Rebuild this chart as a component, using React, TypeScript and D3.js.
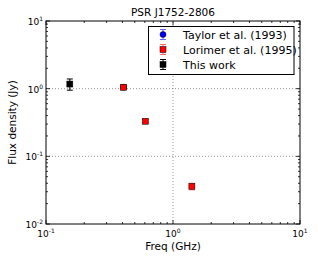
import React from 'react';
import * as d3 from 'd3';

// data
const taylorFreq = [0.408];
const taylorFlux = [1.05];
const taylorErr = [0.08];

const lorimerFreq = [0.408, 0.606, 1.408];
const lorimerFlux = [1.05, 0.33, 0.036];
const lorimerErr = [0.08, 0.02, 0.004];

const thisFreq = [0.154];
const thisFlux = [1.17];
const thisErr = [0.22];

const xTickExps = [-1, 0, 1];
const yTickExps = [-2, -1, 0, 1];

const legendLabels = ['Taylor et al. (1993)', 'Lorimer et al. (1995)', 'This work'];

const W = 318, H = 265;
const margin = { top: 21, right: 18, bottom: 41, left: 46 };
const font = 'DejaVu Sans, sans-serif';

function minorTicks(lo: number, hi: number) {
  const out: number[] = [];
  for (let e = lo; e < hi; e++) {
    for (let k = 2; k <= 9; k++) out.push(k * Math.pow(10, e));
  }
  return out;
}

export default function App() {
  const x = d3.scaleLog().domain([0.1, 10]).range([margin.left, W - margin.right]);
  const y = d3.scaleLog().domain([0.01, 10]).range([H - margin.bottom, margin.top]);
  const [x0, x1] = x.range();
  const [y0, y1] = y.range();

  const series = [
    { f: taylorFreq, s: taylorFlux, e: taylorErr, color: '#0000ff', shape: 'circle' },
    { f: lorimerFreq, s: lorimerFlux, e: lorimerErr, color: '#ff0000', shape: 'square' },
    { f: thisFreq, s: thisFlux, e: thisErr, color: '#000000', shape: 'square' },
  ];

  const marker = (cx: number, cy: number, color: string, shape: string, key: string) =>
    shape === 'circle'
      ? <circle key={key} cx={cx} cy={cy} r={3} fill={color} stroke="#000" strokeWidth={0.5} />
      : <rect key={key} x={cx - 3} y={cy - 3} width={6} height={6} fill={color} stroke="#000" strokeWidth={0.5} />;

  const errBar = (cx: number, top: number, bot: number, color: string, key: string) => (
    <g key={key} stroke={color} strokeWidth={1} opacity={color === '#000000' ? 1 : 0.6}>
      <line x1={cx} x2={cx} y1={top} y2={bot} />
      <line x1={cx - 3} x2={cx + 3} y1={top} y2={top} />
      <line x1={cx - 3} x2={cx + 3} y1={bot} y2={bot} />
    </g>
  );

  const xMinor = minorTicks(-1, 1);
  const yMinor = minorTicks(-2, 1);

  return (
    <svg width={W} height={H} style={{ position: 'absolute', left: 0, top: 0 }} fontFamily={font}>
      <rect width={W} height={H} fill="#fff" />

      {/* grid */}
      <g stroke="#000" strokeWidth={0.6} strokeDasharray="1,2" opacity={0.7}>
        {xTickExps.slice(1, -1).map(e => (
          <line key={'gx' + e} x1={x(Math.pow(10, e))} x2={x(Math.pow(10, e))} y1={y0} y2={y1} />
        ))}
        {yTickExps.slice(1, -1).map(e => (
          <line key={'gy' + e} x1={x0} x2={x1} y1={y(Math.pow(10, e))} y2={y(Math.pow(10, e))} />
        ))}
      </g>

      {/* ticks, inside on all sides */}
      <g stroke="#000" strokeWidth={0.8}>
        {xTickExps.map(e => {
          const v = x(Math.pow(10, e));
          return <g key={'tx' + e}>
            <line x1={v} x2={v} y1={y0} y2={y0 - 4} />
            <line x1={v} x2={v} y1={y1} y2={y1 + 4} />
          </g>;
        })}
        {xMinor.map(m => {
          const v = x(m);
          return <g key={'mx' + m}>
            <line x1={v} x2={v} y1={y0} y2={y0 - 2} />
            <line x1={v} x2={v} y1={y1} y2={y1 + 2} />
          </g>;
        })}
        {yTickExps.map(e => {
          const v = y(Math.pow(10, e));
          return <g key={'ty' + e}>
            <line x1={x0} x2={x0 + 4} y1={v} y2={v} />
            <line x1={x1} x2={x1 - 4} y1={v} y2={v} />
          </g>;
        })}
        {yMinor.map(m => {
          const v = y(m);
          return <g key={'my' + m}>
            <line x1={x0} x2={x0 + 2} y1={v} y2={v} />
            <line x1={x1} x2={x1 - 2} y1={v} y2={v} />
          </g>;
        })}
      </g>

      {/* tick labels */}
      <g fontSize={9} fill="#000">
        {xTickExps.map(e => (
          <text key={'lx' + e} x={x(Math.pow(10, e))} y={y0 + 13} textAnchor="middle">
            10<tspan fontSize={6} dy={-4}>{e}</tspan>
          </text>
        ))}
        {yTickExps.map(e => (
          <text key={'ly' + e} x={x0 - 3} y={y(Math.pow(10, e)) + 4} textAnchor="end">
            10<tspan fontSize={6} dy={-4}>{e}</tspan>
          </text>
        ))}
      </g>

      {/* data */}
      {series.map((sr, i) => (
        <g key={'s' + i}>
          {sr.f.map((f, j) => errBar(x(f), y(sr.s[j] + sr.e[j]), y(sr.s[j] - sr.e[j]), sr.color, 'e' + j))}
          {sr.f.map((f, j) => marker(x(f), y(sr.s[j]), sr.color, sr.shape, 'm' + j))}
        </g>
      ))}

      {/* frame */}
      <rect x={x0} y={y1} width={x1 - x0} height={y0 - y1} fill="none" stroke="#000" strokeWidth={1} />

      {/* legend */}
      <g>
        <rect x={148.5} y={26.5} width={145.5} height={48} fill="#fff" stroke="#000" strokeWidth={1} />
        {legendLabels.map((lab, i) => {
          const ly = 34.5 + i * 15;
          const sr = series[i];
          return <g key={'lg' + i}>
            {errBar(163, ly - 5, ly + 5, sr.color, 'le')}
            {marker(163, ly, sr.color, sr.shape, 'lm')}
            <text x={183} y={ly + 4} fontSize={11}>{lab}</text>
          </g>;
        })}
      </g>

      {/* titles */}
      <text x={(x0 + x1) / 2} y={16} textAnchor="middle" fontSize={10.5}>PSR J1752-2806</text>
      <text x={(x0 + x1) / 2} y={250} textAnchor="middle" fontSize={10.5}>Freq (GHz)</text>
      <text transform={`translate(16,${(y0 + y1) / 2}) rotate(-90)`} textAnchor="middle" fontSize={10.5}>
        Flux density (Jy)
      </text>
    </svg>
  );
}
